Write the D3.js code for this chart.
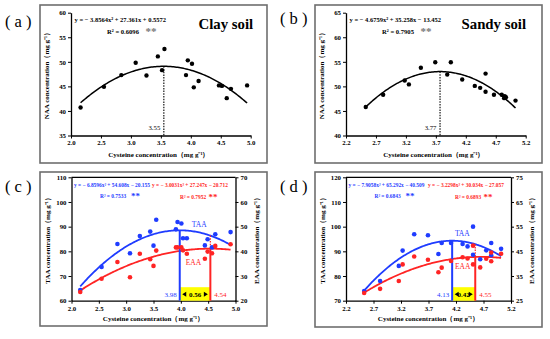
<!DOCTYPE html>
<html><head><meta charset="utf-8">
<script src="https://cdn.jsdelivr.net/npm/d3@7"></script>
<style>
html,body{margin:0;padding:0;background:#fff;}
svg{display:block;font-family:"Liberation Serif","Times New Roman",serif;}
</style></head><body>
<svg id="chart" width="550" height="339"></svg>
<script>
// ---------- (a) Clay soil: NAA vs cysteine ----------
const clayCysA = [2.16,2.55,2.84,3.08,3.26,3.45,3.52,3.56,3.92,3.95,4.02,4.05,4.13,4.47,4.52,4.60,4.67,4.94];
const clayNAA  = [40.7,44.9,47.3,49.8,47.2,51.1,48.3,52.6,47.3,50.3,49.6,44.8,46.1,45.2,45.1,42.6,44.5,45.2];
const clayNAAFit = [-3.8564, 27.361, 0.5572];
const clayNAAPeak = 3.55;
const xTicksA = [2.0,2.5,3.0,3.5,4.0,4.5,5.0];
const yTicksA = [35,40,45,50,55,60];

// ---------- (b) Sandy soil: NAA vs cysteine ----------
const sandyCysB = [2.53,2.82,3.18,3.25,3.45,3.69,3.89,3.95,4.14,4.35,4.44,4.53,4.53,4.67,4.80,4.84,4.85,4.87,5.03];
const sandyNAA  = [45.8,48.3,51.2,50.4,53.8,54.9,52.4,54.9,51.4,50.1,49.7,52.6,48.9,48.3,48.3,47.6,48.0,47.8,47.1];
const sandyNAAFit = [-4.6759, 35.258, -13.452];
const sandyNAAPeak = 3.77;
const xTicksB = [2.2,2.7,3.2,3.7,4.2,4.7,5.2];
const yTicksB = [40,45,50,55,60,65];

// ---------- (c) Clay soil: TAA / EAA vs cysteine ----------
const clayCysC = [2.16,2.55,2.84,3.07,3.25,3.44,3.50,3.55,3.91,3.94,4.01,4.04,4.11,4.44,4.49,4.57,4.63,4.91];
const clayTAA  = [64.3,73.7,83.0,79.2,86.2,88.0,82.3,92.8,88.9,91.9,91.3,85.3,85.3,82.4,84.9,81.6,86.9,87.8];
const clayEAA  = [23.5,28.9,35.7,29.5,39.0,36.8,34.1,40.3,41.6,41.6,41.6,40.4,39.0,37.0,39.9,39.2,42.2,42.9];
const clayTAAFit = [-6.8596, 54.608, -20.155];
const clayEAAFit = [-3.0031, 27.247, -20.712];
const clayPeaks = [3.98, 4.54];
const clayGap = "0.56";
const xTicksC = [2,2.5,3,3.5,4,4.5,5];
const yTicksC = [60,70,80,90,100,110];
const yRTicksC = [20,30,40,50,60,70];

// ---------- (d) Sandy soil: TAA / EAA vs cysteine ----------
const sandyCysD = [2.53,2.82,3.16,3.23,3.44,3.69,3.88,3.94,4.11,4.32,4.41,4.51,4.51,4.64,4.75,4.84,4.84,5.02];
const sandyTAA  = [73.9,78.0,84.1,90.3,96.9,96.5,88.9,93.4,93.4,93.0,92.0,100.0,88.6,86.8,90.4,93.4,88.4,91.0];
const sandyEAA  = [28.1,29.8,33.0,39.7,42.9,41.6,36.5,38.4,41.1,42.6,42.1,47.3,39.7,38.5,42.0,44.5,41.0,44.0];
const sandyTAAFit = [-7.9058, 65.292, -40.509];
const sandyEAAFit = [-3.2298, 30.034, -27.057];
const sandyPeaks = [4.13, 4.55];
const sandyGap = "0.42";
const xTicksD = [2.2,2.7,3.2,3.7,4.2,4.7,5.2];
const yTicksD = [70,80,90,100,110,120];
const yRTicksD = [25,35,45,55,65,75];

const BLUE = "#1f3cff", RED = "#ff2424";
const svg = d3.select("#chart");
const unit = "（mg g⁻¹）";

function styleAxis(sel){
  sel.attr("font-family",null).attr("font-size",null);
  sel.select(".domain").attr("stroke","#000").attr("stroke-width",1.3);
  sel.selectAll(".tick line").attr("stroke","#000").attr("stroke-width",1);
  sel.selectAll(".tick text").attr("font-size",6.8).attr("font-weight","bold").attr("fill","#000");
}
function txt(g,x,y,s,o={}){
  const t=g.append("text").attr("x",x).attr("y",y).text(s)
    .attr("font-size",o.size||7).attr("font-weight",o.weight||"bold")
    .attr("fill",o.fill||"#000").attr("text-anchor",o.anchor||"start");
  if(o.rotate!=null) t.attr("transform",`rotate(${o.rotate},${x},${y})`);
  return t;
}
const quad = c => v => c[0]*v*v + c[1]*v + c[2];
function curvePts(xs){ const [a,b]=d3.extent(xs); return d3.range(0,121).map(i=>a+(b-a)*i/120); }

function box(g,b){
  g.append("rect").attr("x",b[0]).attr("y",b[1]).attr("width",b[2]-b[0]).attr("height",b[3]-b[1])
    .attr("fill","none").attr("stroke","#6e6e6e").attr("stroke-width",1.6);
}

function drawNAA(c){
  const g=svg.append("g");
  box(g,c.box);
  const x=d3.scaleLinear().domain(c.xDomain).range(c.xRange);
  const y=d3.scaleLinear().domain(c.yDomain).range(c.yRange);
  g.append("g").attr("transform",`translate(0,${c.yRange[0]})`)
    .call(d3.axisBottom(x).tickValues(c.xTicks).tickFormat(d3.format(c.xFmt)).tickSize(3).tickSizeOuter(0).tickPadding(2)).call(styleAxis);
  g.append("g").attr("transform",`translate(${c.xRange[0]},0)`)
    .call(d3.axisLeft(y).tickValues(c.yTicks).tickSize(3).tickSizeOuter(0).tickPadding(2)).call(styleAxis);
  const f=quad(c.fit);
  g.append("path").datum(curvePts(c.xs)).attr("d",d3.line().x(v=>x(v)).y(v=>y(f(v))))
    .attr("fill","none").attr("stroke","#000").attr("stroke-width",1.5);
  g.append("line").attr("x1",x(c.peak)).attr("x2",x(c.peak)).attr("y1",y(f(c.peak))).attr("y2",c.yRange[0])
    .attr("stroke","#000").attr("stroke-width",1.1).attr("stroke-dasharray","1.5,1.2");
  g.selectAll("circle.d").data(c.xs).join("circle").attr("cx",d=>x(d)).attr("cy",(d,i)=>y(c.ys[i]))
    .attr("r",2.2).attr("fill","#000");
  txt(g,x(c.peak)-3.5,130,c.peakLabel,{size:6.8,weight:"normal",anchor:"end"});
  const L=c.xRange[0];
  txt(g,L+3.5,21.5,c.eq,{size:6.5});
  txt(g,L+36,34,c.r2,{size:6.6});
  txt(g,L+74.5,35,"**",{size:11,fill:"#777"});
  txt(g,c.titlePos[0],c.titlePos[1],c.title,{size:14.8});
  txt(g,c.labPos[0],c.labPos[1],c.lab,{size:16.5,weight:"normal"});
  txt(g,(c.xRange[0]+c.xRange[1])/2-2,157,"Cysteine concentration"+unit,{size:7,anchor:"middle"});
  const cy=(c.yRange[0]+c.yRange[1])/2;
  txt(g,L-21.5,cy,"NAA concentration"+unit,{size:7,anchor:"middle",rotate:-90});
}

function drawAA(c){
  const g=svg.append("g");
  box(g,c.box);
  const x=d3.scaleLinear().domain(c.xDomain).range(c.xRange);
  const yL=d3.scaleLinear().domain(c.yDomain).range(c.yRange);
  const yR=d3.scaleLinear().domain(c.yRDomain).range(c.yRange);
  g.append("line").attr("x1",c.xRange[0]).attr("x2",c.xRange[1]).attr("y1",c.yRange[1]).attr("y2",c.yRange[1])
    .attr("stroke","#000").attr("stroke-width",1.3);
  g.append("g").attr("transform",`translate(0,${c.yRange[0]})`)
    .call(d3.axisBottom(x).tickValues(c.xTicks).tickSize(3).tickSizeOuter(0).tickPadding(2)).call(styleAxis);
  g.append("g").attr("transform",`translate(${c.xRange[0]},0)`)
    .call(d3.axisLeft(yL).tickValues(c.yTicks).tickSize(3).tickSizeOuter(0).tickPadding(2)).call(styleAxis);
  g.append("g").attr("transform",`translate(${c.xRange[1]},0)`)
    .call(d3.axisRight(yR).tickValues(c.yRTicks).tickSize(3).tickSizeOuter(0).tickPadding(2)).call(styleAxis);
  const fT=quad(c.fitT), fE=quad(c.fitE);
  const [p1,p2]=c.peaks;
  const base=c.yRange[0];
  g.append("rect").attr("x",x(p1)).attr("y",base-13.5).attr("width",x(p2)-x(p1)).attr("height",13.5).attr("fill","#ffff00");
  const mid=(x(p1)+x(p2))/2, ay=base-6.5;
  g.append("path").attr("d",`M${x(p1)+2.5},${ay} l4,-2.5 v5 z M${x(p2)-2.5},${ay} l-4,-2.5 v5 z`).attr("fill","#000");
  txt(g,mid,base-4,c.gap,{size:7,anchor:"middle"});
  g.append("path").datum(curvePts(c.xs)).attr("d",d3.line().x(v=>x(v)).y(v=>yL(fT(v))))
    .attr("fill","none").attr("stroke",BLUE).attr("stroke-width",1.8);
  g.append("path").datum(curvePts(c.xs)).attr("d",d3.line().x(v=>x(v)).y(v=>yR(fE(v))))
    .attr("fill","none").attr("stroke",RED).attr("stroke-width",1.8);
  g.append("line").attr("x1",x(p1)).attr("x2",x(p1)).attr("y1",yL(fT(p1))).attr("y2",base)
    .attr("stroke",BLUE).attr("stroke-width",2);
  g.append("line").attr("x1",x(p2)).attr("x2",x(p2)).attr("y1",yR(fE(p2))).attr("y2",base)
    .attr("stroke",RED).attr("stroke-width",2);
  g.append("line").attr("x1",x(p2)).attr("x2",x(p2)).attr("y1",yL(fT(p2))).attr("y2",yR(fE(p2)))
    .attr("stroke",RED).attr("stroke-width",1.2).attr("stroke-dasharray","1.5,1.2");
  g.selectAll("circle.t").data(c.xs).join("circle").attr("class","t").attr("cx",d=>x(d)).attr("cy",(d,i)=>yL(c.taa[i]))
    .attr("r",2.3).attr("fill",BLUE);
  g.selectAll("circle.e").data(c.xs).join("circle").attr("class","e").attr("cx",d=>x(d)).attr("cy",(d,i)=>yR(c.eaa[i]))
    .attr("r",2.3).attr("fill",RED);
  txt(g,x(p1)-3,base-4,p1.toFixed(2),{size:7,weight:"normal",fill:BLUE,anchor:"end"});
  txt(g,x(p2)+4,base-4,p2.toFixed(2),{size:7,weight:"normal",fill:RED});
  txt(g,x(c.taaLab[0]),yL(c.taaLab[1]),"TAA",{size:7.5,weight:"normal",fill:BLUE});
  txt(g,x(c.eaaLab[0]),yR(c.eaaLab[1]),"EAA",{size:7.5,weight:"normal",fill:RED});
  const L=c.xRange[0], T=c.yRange[1];
  txt(g,L+2.5,T+10,c.eqT,{size:5.4,fill:BLUE});
  txt(g,c.eqEx,T+10,c.eqE,{size:5.4,fill:RED});
  txt(g,c.r2Tx,T+21,c.r2T,{size:5.4,fill:BLUE});
  txt(g,c.r2Tx+31,T+21.5,"**",{size:9,fill:BLUE});
  txt(g,c.r2Ex,T+22,c.r2E,{size:5.4,fill:RED});
  txt(g,c.r2Ex+28.5,T+22.5,"**",{size:9,fill:RED});
  txt(g,c.labPos[0],c.labPos[1],c.lab,{size:16.5,weight:"normal"});
  txt(g,(c.xRange[0]+c.xRange[1])/2,321,"Cysteine concentration"+unit,{size:7,anchor:"middle"});
  const cy=(c.yRange[0]+c.yRange[1])/2;
  txt(g,L-21.5,cy,"TAA concentration"+unit,{size:7,anchor:"middle",rotate:-90});
  txt(g,c.xRange[1]+23,cy,"EAA concentration"+unit,{size:7,anchor:"middle",rotate:-90});
}

drawNAA({box:[40,5,267,163],xDomain:[2,5],xRange:[71,250.7],yDomain:[35,60],yRange:[135.5,12.7],
  xTicks:xTicksA,xFmt:".1f",yTicks:yTicksA,xs:clayCysA,ys:clayNAA,fit:clayNAAFit,peak:clayNAAPeak,peakLabel:"3.55",
  eq:"y = − 3.8564x² + 27.361x + 0.5572",r2:"R² = 0.6096",title:"Clay soil",titlePos:[198.5,28.5],lab:"( a )",labPos:[5,27]});
drawNAA({box:[315,5,542,163],xDomain:[2.2,5.2],xRange:[346,525.7],yDomain:[40,65],yRange:[135.5,12.7],
  xTicks:xTicksB,xFmt:".1f",yTicks:yTicksB,xs:sandyCysB,ys:sandyNAA,fit:sandyNAAFit,peak:sandyNAAPeak,peakLabel:"3.77",
  eq:"y = − 4.6759x² + 35.258x − 13.452",r2:"R² = 0.7905",title:"Sandy soil",titlePos:[461.5,28.5],lab:"( b )",labPos:[280,23.5]});
drawAA({box:[40,172,267,326],xDomain:[2,5],xRange:[71.5,235.5],yDomain:[60,110],yRDomain:[20,70],yRange:[300.7,177.3],
  xTicks:xTicksC,yTicks:yTicksC,yRTicks:yRTicksC,xs:clayCysC,taa:clayTAA,eaa:clayEAA,fitT:clayTAAFit,fitE:clayEAAFit,
  peaks:clayPeaks,gap:clayGap,taaLab:[4.2,90],eaaLab:[4.09,34.5],
  eqT:"y = − 6.8596x² + 54.608x − 20.155",eqE:"y = − 3.0031x² + 27.247x − 20.712",eqEx:152,
  r2T:"R² = 0.7533",r2Tx:100,r2E:"R² = 0.7952",r2Ex:180,lab:"( c )",labPos:[5,192]});
drawAA({box:[315,172,542,327],xDomain:[2.2,5.2],xRange:[346,511],yDomain:[70,120],yRDomain:[25,75],yRange:[300.7,177.3],
  xTicks:xTicksD,yTicks:yTicksD,yRTicks:yRTicksD,xs:sandyCysD,taa:sandyTAA,eaa:sandyEAA,fitT:sandyTAAFit,fitE:sandyEAAFit,
  peaks:sandyPeaks,gap:sandyGap,taaLab:[4.18,96.4],eaaLab:[4.18,37.8],
  eqT:"y = − 7.9058x² + 65.292x − 40.509",eqE:"y = − 3.2298x² + 30.034x − 27.057",eqEx:428,
  r2T:"R² = 0.6843",r2Tx:374.5,r2E:"R² = 0.6893",r2Ex:455,lab:"( d )",labPos:[280,192]});
</script>
</body></html>
